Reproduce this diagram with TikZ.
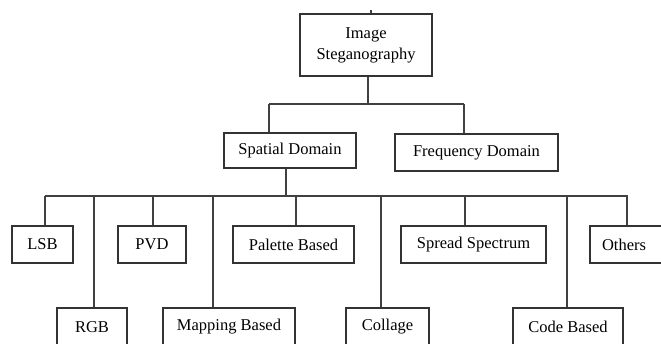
\documentclass[tikz,border=0pt]{standalone}
\usepackage{fontspec}
\setmainfont{Liberation Serif}
\begin{document}
\begin{tikzpicture}[x=1pt,y=1pt,
  box/.style={draw=black!80, line width=1.2pt, inner sep=0pt, align=center,
    font=\fontsize{16.5}{21}\selectfont, text=black},
  link/.style={draw=black!75, line width=1.2pt}]
\useasboundingbox (0,0) rectangle (661,-343);
\clip (0,0) rectangle (661,-343);
% nodes
\node[box, minimum width=132pt, minimum height=62pt] (top) at (366,-45) {Image\\Steganography};
\node[box, minimum width=132pt, minimum height=35pt] (spatial) at (290,-150.5) {Spatial Domain};
\node[box, minimum width=163pt, minimum height=37pt] (freq) at (476.5,-152.5) {Frequency Domain};
\node[box, minimum width=61pt, minimum height=37pt] (lsb) at (42.5,-244.5) {LSB};
\node[box, minimum width=68pt, minimum height=37pt] (pvd) at (152,-244.5) {PVD};
\node[box, minimum width=121pt, minimum height=37pt] (palette) at (293.5,-244.5) {Palette Based};
\node[box, minimum width=145pt, minimum height=37pt] (spread) at (473.5,-244.5) {Spread Spectrum};
\node[box, minimum width=75pt, minimum height=37pt, text width=65pt, align=left] (others) at (627.5,-244.5) {\hspace*{7pt}Others};
\node[box, minimum width=70pt, minimum height=38pt] (rgb) at (92,-327) {RGB};
\node[box, minimum width=132pt, minimum height=38pt] (mapping) at (229,-327) {Mapping Based};
\node[box, minimum width=83pt, minimum height=38pt] (collage) at (387.5,-327) {Collage};
\node[box, minimum width=110pt, minimum height=38pt] (code) at (568,-327) {Code Based};
% level 1 connectors
\coordinate (stub) at (371,-10);
\coordinate (h1) at (368,-104);
\coordinate (h1l) at (269,-104);
\coordinate (h1r) at (464,-104);
\draw[link] (stub) -- (stub |- top.north);
\draw[link] (top.south -| h1) -- (h1);
\draw[link] (h1l) -- (h1r);
\draw[link] (h1l) -- (h1l |- spatial.north);
\draw[link] (h1r) -- (h1r |- freq.north);
% level 2 connectors
\coordinate (h2) at (286,-196);
\coordinate (cl) at (45,-196);
\coordinate (cr) at (628,-196);
\draw[link] (spatial.south -| h2) -- (h2);
\draw[link] (cl) -- (cr);
\coordinate (clsb) at (45,-196);
\coordinate (crgb) at (94,-196);
\coordinate (cpvd) at (153,-196);
\coordinate (cmap) at (213,-196);
\coordinate (cpal) at (296,-196);
\coordinate (ccol) at (381,-196);
\coordinate (cspr) at (465,-196);
\coordinate (ccod) at (567,-196);
\coordinate (coth) at (627,-196);
\draw[link] (clsb) -- (clsb |- lsb.north);
\draw[link] (crgb) -- (crgb |- rgb.north);
\draw[link] (cpvd) -- (cpvd |- pvd.north);
\draw[link] (cmap) -- (cmap |- mapping.north);
\draw[link] (cpal) -- (cpal |- palette.north);
\draw[link] (ccol) -- (ccol |- collage.north);
\draw[link] (cspr) -- (cspr |- spread.north);
\draw[link] (ccod) -- (ccod |- code.north);
\draw[link] (coth) -- (coth |- others.north);
\end{tikzpicture}
\end{document}
